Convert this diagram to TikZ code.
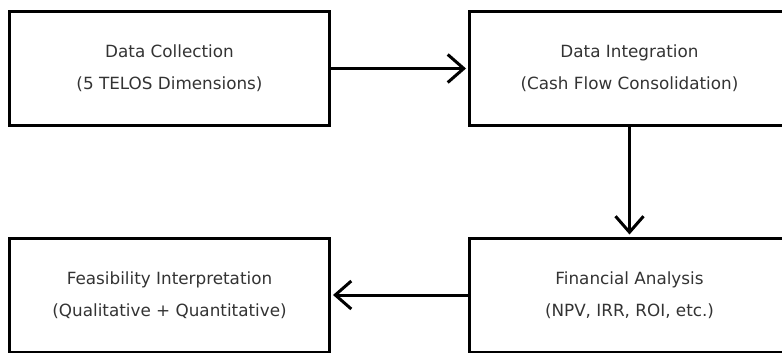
\documentclass[tikz,border=0pt]{standalone}
\usepackage{fontspec}
\setmainfont{DejaVu Sans}
\usetikzlibrary{arrows.meta}
\tikzset{
  stagebox/.style={draw, line width=3pt, minimum width=320pt, minimum height=114pt,
    align=center, text=black!80, font={\fontsize{16.8}{32}\selectfont}},
  flow/.style={-{Straight Barb[length=16pt,width=28pt]}, line width=3pt, shorten >=2pt}
}
\begin{document}
\begin{tikzpicture}[x=1pt, y=1pt]
\useasboundingbox (0,0) rectangle (782,-353);
\clip (0,0) rectangle (782,-353);
\node[stagebox] (collect) at (169.5,-68.5) {Data Collection\\(5 TELOS Dimensions)};
\node[stagebox] (integr) at (629.5,-68.5) {Data Integration\\(Cash Flow Consolidation)};
\node[stagebox] (finan) at (629.5,-295) {Financial Analysis\\(NPV, IRR, ROI, etc.)};
\node[stagebox] (feas) at (169.5,-295) {Feasibility Interpretation\\(Qualitative + Quantitative)};
\draw[flow] (collect) -- (integr);
\draw[flow] (integr) -- (finan);
\draw[flow] (finan) -- (feas);
\end{tikzpicture}
\end{document}
